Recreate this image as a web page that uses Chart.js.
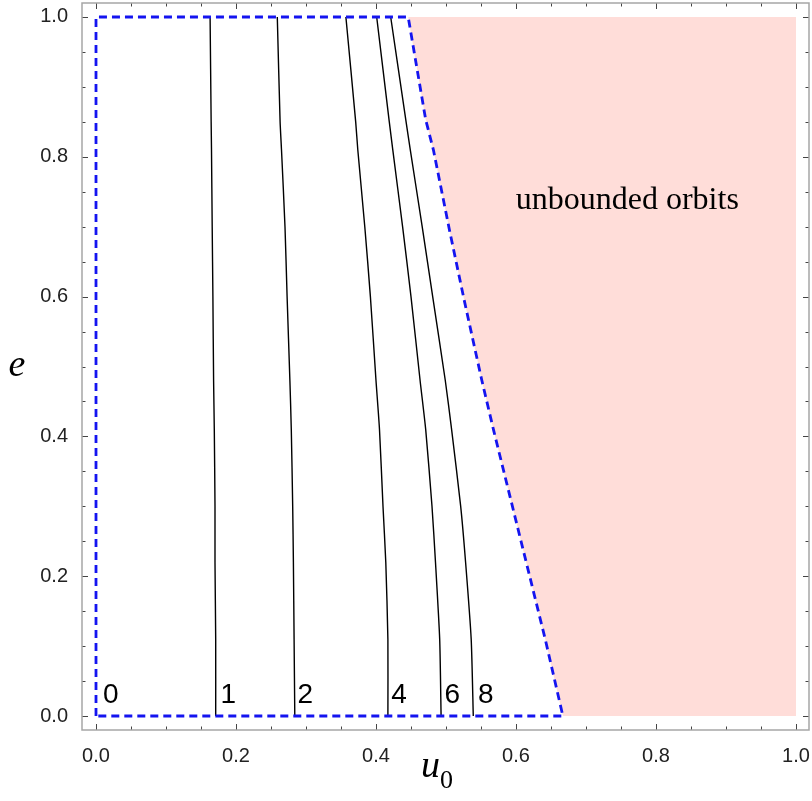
<!DOCTYPE html>
<html>
<head>
<meta charset="utf-8">
<script src="https://cdn.jsdelivr.net/npm/chart.js@4"></script>
<style>
  body { margin: 0; background: #fff; }
  canvas { display: block; }
</style>
</head>
<body>
<canvas id="grafico" width="812" height="801"></canvas>
<script>
// valores de e donde se leyeron las curvas
const eNiveles = [0, 0.11, 0.22, 0.3, 0.41, 0.48, 0.6, 0.7, 0.81, 0.85, 1];

// curvas de nivel (u0 para cada e)
const curva1 = [0.171, 0.171, 0.170, 0.170, 0.169, 0.168, 0.167, 0.166, 0.165, 0.1645, 0.163];
const curva2 = [0.284, 0.283, 0.282, 0.281, 0.279, 0.277, 0.273, 0.270, 0.265, 0.263, 0.259];
const curva4 = [0.417, 0.417, 0.414, 0.410, 0.405, 0.400, 0.392, 0.384, 0.374, 0.371, 0.357];
const curva6 = [0.493, 0.491, 0.485, 0.480, 0.471, 0.463, 0.450, 0.438, 0.424, 0.419, 0.401];
const curva8 = [0.539, 0.536, 0.528, 0.521, 0.508, 0.499, 0.481, 0.466, 0.449, 0.443, 0.421];

// limite de orbitas no ligadas
const limiteE = [1, 0.853, 0.81, 0.695, 0.595, 0.481, 0.409, 0.109, 0];
const limiteU = [0.446, 0.471, 0.482, 0.505, 0.526, 0.551, 0.568, 0.642, 0.667];

// etiquetas de las curvas
const etiquetas = ['0', '1', '2', '4', '6', '8'];
const etiquetasU = [0.021, 0.189, 0.299, 0.433, 0.509, 0.557];
const etiquetasE = 0.03;

// ticks
const ticksValores = [0, 0.2, 0.4, 0.6, 0.8, 1.0];
const ticksTexto = ['0.0', '0.2', '0.4', '0.6', '0.8', '1.0'];
const ticksMenores = [];
for (let i = 0; i <= 20; i++) ticksMenores.push(i * 0.05);

const textoRegion = 'unbounded orbits';
const posRegion = { x: 0.759, y: 0.738 };

function puntos(us, es) {
        return us.map((u, i) => ({ x: u, y: es[i] }));
}

const curvaDataset = (us) => ({
        data: puntos(us, eNiveles),
        showLine: true,
        borderColor: '#000',
        borderWidth: 1.4,
        pointRadius: 0,
        tension: 0.2,
        order: 1
});

// region rosada
const regionRosa = puntos(limiteU, limiteE).concat([{ x: 1, y: 0 }, { x: 1, y: 1 }]);
// borde azul
const bordeAzul = [{ x: 0, y: 0 }, { x: 0, y: 1 }].concat(puntos(limiteU, limiteE)).concat([{ x: 0, y: 0 }]);

// Plugin para marco, ticks y textos
const marco = {
        id: 'marco',
        afterDraw(chart) {
                const ctx = chart.ctx;
                const a = chart.chartArea;
                const sx = chart.scales.x;
                const sy = chart.scales.y;
                ctx.save();
                // ticks
                ctx.strokeStyle = '#444';
                ctx.lineWidth = 1;
                ticksMenores.forEach(v => {
                        const mayor = Math.abs(v * 5 - Math.round(v * 5)) < 1e-6;
                        const l = mayor ? 6 : 3.5;
                        const px = Math.round(sx.getPixelForValue(v)) + 0.5;
                        const py = Math.round(sy.getPixelForValue(v)) + 0.5;
                        ctx.beginPath();
                        ctx.moveTo(px, a.bottom); ctx.lineTo(px, a.bottom - l);
                        ctx.moveTo(px, a.top); ctx.lineTo(px, a.top + l);
                        ctx.moveTo(a.left, py); ctx.lineTo(a.left + l, py);
                        ctx.moveTo(a.right, py); ctx.lineTo(a.right - l, py);
                        ctx.stroke();
                });
                // marco
                ctx.strokeStyle = '#a6a6a6';
                ctx.lineWidth = 1.5;
                ctx.strokeRect(a.left, a.top, a.right - a.left, a.bottom - a.top);

                // etiquetas de curvas
                ctx.fillStyle = '#000';
                ctx.font = '28px "Liberation Sans", Arial, sans-serif';
                ctx.textAlign = 'center';
                ctx.textBaseline = 'middle';
                etiquetas.forEach((t, i) => {
                        ctx.fillText(t, sx.getPixelForValue(etiquetasU[i]), sy.getPixelForValue(etiquetasE));
                });

                // texto de la region
                ctx.font = '32px "Liberation Serif", "Times New Roman", serif';
                ctx.fillText(textoRegion, sx.getPixelForValue(posRegion.x), sy.getPixelForValue(posRegion.y));

                // titulos de ejes
                ctx.font = 'italic 38px "Liberation Serif", "Times New Roman", serif';
                ctx.textBaseline = 'alphabetic';
                ctx.fillText('e', 17, 376);
                ctx.textAlign = 'left';
                ctx.fillText('u', 421, 777);
                ctx.font = '26px "Liberation Serif", "Times New Roman", serif';
                ctx.fillText('0', 440, 788);
                ctx.restore();
        }
};

const ctx = document.querySelector('#grafico');

const sinPadding = (s) => {
        s.paddingTop = 0; s.paddingBottom = 0; s.paddingLeft = 0; s.paddingRight = 0;
};

const myChart = new Chart(ctx, {
        type: 'scatter',
        data: {
                datasets: [
                        {
                                data: bordeAzul,
                                showLine: true,
                                borderColor: '#1414f0',
                                borderWidth: 2.8,
                                borderDash: [8, 5],
                                pointRadius: 0,
                                order: 0
                        },
                        curvaDataset(curva1),
                        curvaDataset(curva2),
                        curvaDataset(curva4),
                        curvaDataset(curva6),
                        curvaDataset(curva8),
                        {
                                data: regionRosa,
                                showLine: true,
                                borderWidth: 0,
                                borderColor: 'rgba(0,0,0,0)',
                                backgroundColor: '#ffddd9',
                                fill: 'shape',
                                pointRadius: 0,
                                order: 2
                        }
                ]
        },
        options: {
                responsive: false,
                animation: false,
                devicePixelRatio: 1,
                layout: { padding: { top: 3, right: 3, left: 0, bottom: 0 } },
                plugins: { legend: { display: false }, tooltip: { enabled: false } },
                scales: {
                        x: {
                                type: 'linear',
                                min: -0.02,
                                max: 1.0186,
                                grid: { display: false },
                                border: { display: false },
                                afterBuildTicks: (s) => { s.ticks = ticksValores.map(v => ({ value: v })); },
                                afterFit: (s) => { s.height = 71; sinPadding(s); },
                                ticks: {
                                        padding: 6,
                                        color: '#222',
                                        font: { family: '"Liberation Sans", Arial, sans-serif', size: 20 },
                                        callback: (v, i) => ticksTexto[i]
                                }
                        },
                        y: {
                                type: 'linear',
                                min: -0.02,
                                max: 1.02,
                                grid: { display: false },
                                border: { display: false },
                                afterBuildTicks: (s) => { s.ticks = ticksValores.map(v => ({ value: v })); },
                                afterFit: (s) => { s.width = 82; sinPadding(s); },
                                ticks: {
                                        padding: 6,
                                        color: '#222',
                                        font: { family: '"Liberation Sans", Arial, sans-serif', size: 20 },
                                        callback: (v, i) => ticksTexto[i]
                                }
                        }
                }
        },
        plugins: [marco]
});
</script>
</body>
</html>
